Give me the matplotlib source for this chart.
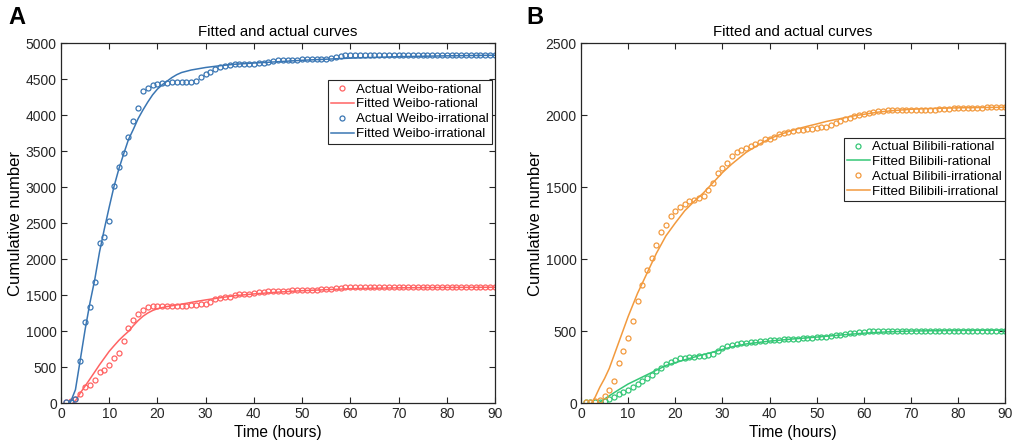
import numpy as np
import matplotlib
matplotlib.use("Agg")
import matplotlib.pyplot as plt

plt.rcParams['font.family'] = ['Liberation Sans', 'DejaVu Sans']

hours = list(range(1, 91))

# Panel A: Weibo (hourly observations)
weibo_rational = [
    10, 23, 55, 130, 222, 250, 324, 430, 463, 528,
    630, 699, 856, 1042, 1157, 1236, 1296, 1338, 1350, 1352,
    1352, 1352, 1352, 1352, 1352, 1352, 1356, 1360, 1370, 1380,
    1405, 1445, 1458, 1468, 1478, 1500, 1512, 1518, 1520, 1528,
    1537, 1545, 1552, 1556, 1558, 1560, 1562, 1564, 1566, 1568,
    1570, 1572, 1576, 1580, 1584, 1588, 1596, 1602, 1605, 1606,
    1606, 1606, 1606, 1606, 1606, 1606, 1606, 1606, 1606, 1606,
    1606, 1606, 1606, 1606, 1606, 1606, 1606, 1606, 1606, 1606,
    1606, 1606, 1606, 1606, 1606, 1606, 1606, 1606, 1606, 1606,
]
weibo_irrational = [
    10, 10, 50, 579, 1125, 1333, 1680, 2227, 2310, 2528,
    3019, 3283, 3477, 3695, 3917, 4097, 4329, 4380, 4417, 4435,
    4440, 4449, 4454, 4454, 4460, 4460, 4462, 4477, 4523, 4570,
    4602, 4644, 4671, 4685, 4695, 4704, 4709, 4713, 4713, 4715,
    4718, 4722, 4735, 4755, 4760, 4762, 4765, 4767, 4769, 4772,
    4775, 4777, 4779, 4781, 4783, 4786, 4800, 4822, 4828, 4830,
    4830, 4830, 4831, 4831, 4831, 4832, 4832, 4832, 4832, 4832,
    4833, 4833, 4833, 4833, 4833, 4833, 4833, 4833, 4833, 4833,
    4833, 4833, 4833, 4833, 4833, 4833, 4833, 4833, 4833, 4833,
]

weibo_rat_fit_t = [2.5, 3, 4, 5, 6, 7, 8, 9, 10, 11, 12, 13, 14, 15, 16, 17, 18, 19, 20,
                   22, 24, 26, 28, 30, 33, 36, 40, 45, 50, 60, 70, 80, 90]
weibo_rat_fit = [0, 30, 139, 235, 333, 432, 532, 625, 718, 795, 870, 935, 995, 1074, 1145,
                 1205, 1250, 1285, 1310, 1340, 1362, 1385, 1410, 1432, 1462, 1490, 1515,
                 1540, 1560, 1588, 1600, 1605, 1608]
weibo_irr_fit_t = [1.9, 3, 4, 5, 6, 7, 8, 9, 10, 11, 12, 13, 14, 15, 16, 17, 18, 19, 20,
                   21, 22, 23, 24, 25, 27, 30, 33, 36, 40, 45, 50, 60, 70, 80, 90]
weibo_irr_fit = [0, 185, 600, 1018, 1389, 1713, 2100, 2420, 2720, 3009, 3250, 3460, 3660,
                 3800, 3950, 4070, 4180, 4280, 4360, 4420, 4470, 4520, 4560, 4590, 4625,
                 4660, 4685, 4705, 4722, 4740, 4760, 4790, 4810, 4822, 4830]

# Panel B: Bilibili (hourly observations)
bili_rational = [
    5, 5, 5, 7, 12, 28, 42, 65, 79, 92,
    111, 134, 152, 176, 194, 219, 240, 268, 286, 300,
    312, 316, 323, 323, 326, 328, 335, 342, 360, 379,
    393, 404, 413, 416, 420, 424, 427, 430, 433, 436,
    438, 440, 442, 444, 446, 448, 450, 452, 454, 456,
    458, 460, 465, 470, 474, 479, 484, 488, 491, 494,
    497, 499, 500, 501, 501, 502, 502, 502, 502, 502,
    502, 502, 502, 502, 502, 502, 502, 502, 502, 502,
    502, 502, 502, 502, 502, 503, 503, 503, 503, 503,
]
bili_irrational = [
    5, 9, 12, 18, 46, 88, 150, 277, 358, 453,
    573, 707, 820, 924, 1009, 1097, 1185, 1234, 1298, 1333,
    1358, 1384, 1400, 1411, 1421, 1439, 1481, 1527, 1594, 1635,
    1668, 1714, 1742, 1760, 1774, 1788, 1802, 1816, 1830, 1836,
    1850, 1865, 1875, 1882, 1888, 1893, 1898, 1902, 1905, 1910,
    1915, 1920, 1930, 1945, 1958, 1970, 1982, 1992, 2000, 2008,
    2014, 2019, 2025, 2030, 2034, 2036, 2036, 2035, 2034, 2034,
    2034, 2034, 2034, 2036, 2038, 2040, 2042, 2044, 2046, 2048,
    2050, 2051, 2051, 2052, 2052, 2053, 2053, 2054, 2054, 2055,
]

bili_rat_fit_t = [3.7, 5, 6, 8, 10, 12, 14, 16, 18, 20, 22, 25, 27, 30, 32, 35, 40, 45,
                  50, 55, 60, 65, 70, 80, 90]
bili_rat_fit = [0, 28, 50, 92, 132, 164, 196, 228, 260, 280, 300, 328, 345, 372, 390, 410,
                430, 445, 458, 472, 485, 494, 500, 504, 506]
bili_irr_fit_t = [2.2, 3, 4, 5, 6, 7, 8, 10, 12, 14, 16, 18, 20, 22, 24, 26, 28, 30, 32,
                  35, 38, 40, 42, 44, 46, 48, 50, 52, 55, 58, 60, 63, 66, 70, 75, 80, 90]
bili_irr_fit = [0, 40, 110, 170, 240, 330, 420, 600, 762, 901, 1040, 1160, 1250, 1335,
                1400, 1460, 1530, 1600, 1660, 1740, 1800, 1835, 1862, 1885, 1905, 1922,
                1938, 1955, 1975, 1995, 2005, 2020, 2030, 2040, 2046, 2050, 2054]

c_red = '#ff6363'
c_blue = '#3a76b3'
c_green = '#35c777'
c_orange = '#f29a3e'


def draw_panel(ax, series, ymax, legend_anchor):
    for t_obs, y_obs, t_fit, y_fit, color, name in series:
        ax.plot(t_obs, y_obs, 'o', ms=3.6, mfc='none', mec=color, mew=0.9,
                label=f'Actual {name}')
        ax.plot(t_fit, y_fit, '-', color=color, lw=1.1, label=f'Fitted {name}')
    ax.set_xlim(0, 90)
    ax.set_ylim(0, ymax)
    ax.set_xticks(range(0, 91, 10))
    ax.set_title('Fitted and actual curves', fontsize=10.8, pad=5)
    ax.set_xlabel('Time (hours)', fontsize=11.2, labelpad=3)
    ax.set_ylabel('Cumulative number', fontsize=12, labelpad=2)
    ax.tick_params(direction='in', top=True, right=True, length=4, width=0.8,
                   labelsize=10, colors='#262626', pad=3)
    for sp in ax.spines.values():
        sp.set_linewidth(0.9)
        sp.set_color('#262626')
    leg = ax.legend(loc='upper right', bbox_to_anchor=legend_anchor, fontsize=9.5,
                    frameon=True, fancybox=False, framealpha=1, edgecolor='#262626',
                    handlelength=1.7, handletextpad=0.2, labelspacing=0.2,
                    borderpad=0.25, borderaxespad=0)
    leg.get_frame().set_linewidth(0.8)


fig = plt.figure(figsize=(10.13, 4.48), dpi=100)
ax_a = fig.add_axes([0.0602, 0.1004, 0.4284, 0.8036])
ax_b = fig.add_axes([0.5735, 0.1004, 0.4190, 0.8036])

draw_panel(ax_a, [
    (hours, weibo_rational, weibo_rat_fit_t, weibo_rat_fit, c_red, 'Weibo-rational'),
    (hours, weibo_irrational, weibo_irr_fit_t, weibo_irr_fit, c_blue, 'Weibo-irrational'),
], 5000, (0.994, 0.897))
ax_a.set_yticks(range(0, 5001, 500))

draw_panel(ax_b, [
    (hours, bili_rational, bili_rat_fit_t, bili_rat_fit, c_green, 'Bilibili-rational'),
    (hours, bili_irrational, bili_irr_fit_t, bili_irr_fit, c_orange, 'Bilibili-irrational'),
], 2500, (1.0, 0.737))
ax_b.set_yticks(range(0, 2501, 500))

fig.text(0.008, 0.96, 'A', fontsize=17, fontweight='bold', va='center', ha='left')
fig.text(0.520, 0.96, 'B', fontsize=17, fontweight='bold', va='center', ha='left')

fig.savefig('out.png', dpi=100)
